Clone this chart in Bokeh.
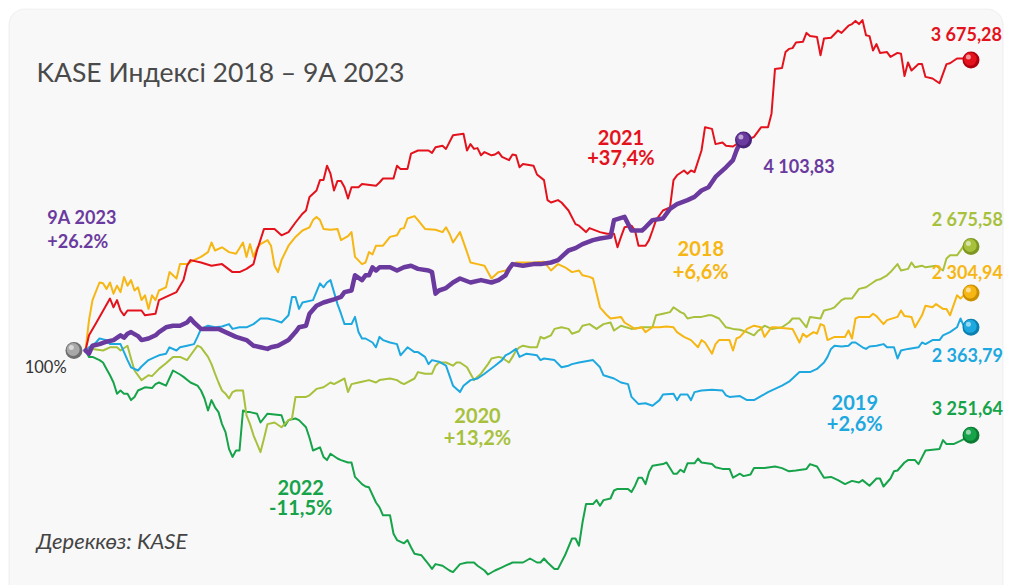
from bokeh.plotting import figure
from bokeh.models import Range1d, BoxAnnotation
from bokeh.embed import file_html
from bokeh.resources import INLINE
from bokeh.core.properties import value

# ---------------- data: (trading day, index level with start = 100) ----------------
s2021 = [(0,100.0),(1,101.9),(3,103.4),(7,106.5),(8,105.4),(9,106.3),(10,105.0),(11,104.4),(12,105.0),(16,105.0),(17,104.4),(20,104.6),(21,106.3),(23,106.7),(26,107.3),(28,108.8),(29,110.6),(30,111.3),(33,111.0),(36,110.6),(39,110.8),(42,109.8),(44,109.8),(46,110.2),(48,110.8),(49,112.5),(51,115.2),(54,115.2),(56,114.4),(58,114.8),(60,116.0),(62,117.1),(63,117.5),(64,119.2),(66,120.0),(67,121.3),(68,121.3),(69,123.1),(70,122.1),(71,120.0),(72,121.2),(73,121.2),(74,120.4),(75,119.0),(76,120.4),(78,120.4),(79,120.8),(83,120.6),(84,121.0),(85,121.5),(88,121.5),(89,123.1),(90,122.7),(92,122.7),(93,124.6),(95,125.0),(98,125.0),(99,124.7),(100,125.4),(102,125.6),(103,125.2),(105,126.9),(108,127.1),(109,125.0),(110,125.8),(111,125.2),(112,125.3),(113,124.4),(114,124.8),(116,124.4),(117,124.5),(118,124.8),(119,124.2),(121,123.8),(122,124.5),(123,124.4),(124,122.9),(125,123.3),(128,123.1),(129,122.0),(131,121.3),(132,118.8),(133,118.5),(135,118.8),(136,118.5),(138,117.5),(140,115.8),(141,115.6),(143,114.8),(144,115.3),(147,114.8),(149,114.6),(151,114.6),(152,112.9),(153,114.2),(154,115.4),(156,115.6),(157,115.0),(158,113.1),(160,113.1),(161,113.8),(162,115.0),(163,116.3),(165,117.5),(167,117.9),(168,121.3),(169,121.9),(171,122.5),(172,122.1),(173,122.5),(174,122.3),(176,125.0),(177,127.9),(179,127.7),(180,125.8),(182,126.0),(183,125.6),(185,125.5),(187,126.1),(189,126.3),(190,126.5),(191,126.7),(193,127.9),(195,127.9),(196,129.6),(197,135.2),(199,135.3),(200,137.3),(201,137.7),(202,137.8),(203,138.5),(205,138.6),(206,139.7),(207,139.3),(209,139.2),(210,136.9),(211,139.0),(213,139.1),(215,140.0),(216,139.7),(218,140.6),(219,140.8),(220,141.2),(221,140.8),(222,141.3),(223,139.4),(224,139.3),(225,137.5),(226,138.3),(227,137.2),(229,137.3),(230,136.7),(232,137.2),(233,137.1),(234,134.3),(235,136.0),(236,135.0),(238,135.8),(239,135.8),(240,134.2),(242,134.0),(244,133.4),(246,135.8),(247,135.9),(249,136.5),(251,136.5),(253,136.3)]

s2023 = [(0,100.0),(1,99.6),(2,100.6),(4,100.8),(6,101.1),(8,101.3),(10,101.9),(11,101.6),(12,102.1),(13,102.3),(15,101.8),(16,101.3),(18,101.5),(20,101.9),(21,102.3),(23,102.9),(25,103.1),(27,103.1),(29,103.5),(30,104.0),(31,103.5),(33,102.7),(35,102.7),(38,102.7),(40,102.3),(43,101.7),(46,101.3),(48,100.6),(50,100.4),(52,100.2),(53,100.4),(55,100.6),(58,101.3),(60,102.3),(61,102.9),(63,103.1),(64,104.6),(66,105.6),(68,106.0),(71,106.4),(73,106.7),(74,107.3),(76,107.5),(77,109.4),(79,108.8),(80,109.4),(81,109.4),(82,110.4),(83,110.0),(84,110.4),(87,110.4),(89,110.0),(91,110.4),(93,110.6),(95,110.2),(98,110.0),(99,109.8),(100,107.1),(101,107.5),(103,107.8),(105,108.5),(107,109.0),(110,108.5),(113,108.8),(116,108.5),(118,108.8),(120,109.4),(121,110.2),(122,110.8),(125,110.6),(128,110.8),(130,110.8),(133,111.0),(135,111.3),(138,112.5),(140,112.8),(142,113.3),(145,113.8),(147,114.0),(150,114.2),(151,116.3),(154,116.7),(156,115.0),(159,115.0),(160,115.4),(162,116.3),(165,116.5),(167,117.7),(169,118.3),(172,118.8),(174,119.2),(176,120.0),(178,120.4),(180,121.7),(181,122.1),(183,122.9),(185,123.8),(186,125.0),(187,126.0),(188,126.3)]

s2018 = [(0,100.0),(1,103.8),(2,106.3),(4,108.5),(5,108.4),(6,107.7),(7,108.5),(8,107.1),(9,108.1),(10,107.3),(11,109.2),(12,108.1),(13,108.8),(14,107.5),(15,107.9),(16,106.3),(17,106.9),(18,105.2),(19,106.9),(20,106.3),(21,107.5),(23,107.9),(24,109.8),(26,109.0),(27,110.8),(29,110.8),(31,111.3),(33,111.7),(35,112.3),(36,113.5),(37,112.5),(39,112.9),(41,112.3),(43,112.1),(45,113.5),(46,111.7),(47,113.3),(48,111.7),(49,112.8),(50,113.3),(52,113.8),(53,113.1),(54,110.6),(55,109.8),(56,111.3),(58,113.1),(60,114.2),(61,114.6),(62,115.0),(64,115.4),(65,116.3),(66,116.7),(67,116.3),(68,115.2),(70,115.1),(72,115.2),(73,113.8),(75,114.3),(76,114.8),(77,111.7),(79,110.8),(80,111.0),(81,112.3),(82,112.0),(83,113.1),(85,113.1),(87,114.2),(89,114.4),(90,115.2),(91,115.3),(92,116.5),(94,116.8),(95,116.3),(97,115.2),(100,115.1),(102,114.8),(103,115.4),(104,114.6),(105,113.5),(107,114.8),(109,112.3),(110,111.0),(112,110.8),(114,110.6),(116,109.0),(118,109.8),(120,110.0),(123,111.0),(124,111.0),(128,111.0),(131,111.1),(133,110.0),(135,110.8),(137,110.4),(139,109.8),(141,110.0),(142,109.4),(144,109.2),(145,109.0),(147,105.4),(149,104.4),(150,104.0),(153,104.2),(154,103.5),(157,102.7),(159,102.9),(160,102.3),(162,102.9),(164,102.9),(166,103.0),(168,102.9),(169,102.3),(171,101.7),(173,101.3),(175,100.4),(176,101.3),(177,101.0),(179,99.6),(180,100.8),(181,101.3),(184,101.3),(185,100.0),(186,101.5),(187,101.7),(189,102.7),(191,103.1),(193,102.9),(194,101.7),(196,102.9),(197,102.9),(199,102.8),(202,102.7),(204,101.0),(205,102.1),(206,101.7),(208,102.3),(209,102.1),(210,103.3),(211,103.1),(212,101.3),(214,101.7),(217,101.7),(218,102.5),(219,101.5),(220,104.0),(221,104.2),(224,104.2),(225,104.6),(226,104.3),(228,103.3),(229,103.8),(232,104.2),(233,105.0),(234,104.3),(236,104.2),(237,102.9),(239,104.4),(240,105.6),(242,105.4),(243,105.8),(245,105.2),(246,105.2),(247,104.4),(249,106.9),(250,106.5),(251,106.9),(253,107.2)]

s2019 = [(0,100.0),(1,100.4),(3,101.0),(4,101.5),(6,101.3),(7,100.8),(10,100.8),(11,99.8),(12,98.8),(13,97.9),(15,97.5),(16,98.0),(18,98.8),(20,99.2),(21,99.4),(23,99.6),(24,100.4),(26,100.0),(27,100.4),(29,100.6),(31,100.8),(32,101.7),(33,102.7),(35,103.1),(37,102.9),(39,103.0),(41,103.3),(42,102.7),(44,102.9),(46,102.9),(48,103.3),(50,104.0),(52,104.0),(54,103.8),(56,103.5),(58,104.4),(59,106.7),(60,106.7),(61,105.2),(62,106.0),(65,106.3),(67,108.4),(68,107.9),(69,108.5),(70,108.8),(71,107.3),(72,105.8),(73,104.6),(74,103.3),(76,103.3),(77,104.2),(78,102.3),(79,101.5),(80,101.5),(82,101.0),(83,100.4),(84,101.7),(85,101.3),(87,101.0),(89,100.8),(90,99.4),(92,100.4),(94,99.8),(95,99.8),(97,99.2),(98,98.3),(99,98.8),(101,98.6),(103,98.1),(105,95.6),(107,94.8),(108,95.6),(110,96.3),(112,96.5),(114,97.1),(117,98.1),(119,98.8),(120,99.4),(121,99.6),(123,100.2),(124,99.2),(126,99.6),(129,99.4),(130,98.8),(131,99.0),(134,98.8),(136,97.9),(138,98.1),(139,98.3),(141,98.5),(145,98.8),(147,97.9),(148,96.9),(151,96.5),(153,96.0),(155,95.8),(156,94.2),(158,93.3),(160,93.4),(162,93.1),(164,93.8),(165,94.5),(168,94.6),(169,93.8),(170,94.5),(172,94.5),(173,93.8),(174,94.8),(176,95.0),(179,95.1),(182,95.0),(183,94.4),(184,94.2),(187,94.3),(189,93.8),(191,93.8),(193,94.3),(195,94.8),(197,95.2),(199,95.6),(201,96.1),(203,96.9),(204,97.3),(207,97.3),(209,97.7),(211,98.5),(212,99.2),(213,100.2),(214,100.6),(216,100.5),(218,100.6),(219,101.0),(220,101.0),(222,100.4),(223,100.2),(224,100.5),(226,100.6),(228,100.8),(229,100.4),(231,100.4),(232,99.0),(233,100.0),(235,100.2),(238,100.4),(239,101.0),(240,100.8),(242,101.3),(244,101.3),(245,101.9),(247,102.3),(249,102.9),(250,104.0),(251,103.0),(253,102.9)]

s2020 = [(0,100.0),(2,100.2),(5,100.0),(7,100.4),(9,100.4),(10,100.0),(12,100.6),(13,99.0),(14,97.5),(16,96.3),(18,96.9),(19,96.8),(21,97.7),(23,98.4),(25,99.2),(27,99.2),(29,98.8),(31,100.0),(32,100.6),(33,100.4),(35,99.2),(36,98.3),(37,97.1),(38,96.0),(39,95.0),(40,94.6),(41,94.0),(42,94.8),(43,95.0),(45,95.0),(46,91.9),(47,90.8),(48,89.4),(50,87.3),(51,89.0),(52,90.8),(54,91.0),(56,90.4),(58,91.3),(59,91.5),(60,94.2),(61,94.2),(63,94.2),(64,94.4),(66,95.2),(68,95.4),(70,96.0),(71,95.8),(74,96.5),(75,94.8),(76,95.8),(78,96.0),(79,96.1),(81,96.3),(83,96.0),(84,96.3),(87,96.5),(89,96.3),(90,96.0),(91,95.8),(94,96.5),(95,97.3),(97,97.1),(99,97.1),(100,98.1),(101,98.5),(103,98.5),(105,98.1),(106,98.5),(107,98.5),(109,97.9),(110,97.1),(111,96.3),(113,97.1),(115,98.3),(116,99.0),(118,99.2),(119,99.1),(121,98.5),(122,99.2),(123,100.0),(124,100.4),(125,100.6),(127,100.4),(129,100.4),(130,101.7),(131,101.5),(133,101.9),(134,102.7),(136,102.9),(138,102.7),(139,102.1),(141,102.4),(142,103.1),(144,103.3),(146,102.7),(148,103.3),(150,103.5),(151,102.5),(153,103.1),(156,102.7),(159,102.9),(162,102.9),(163,104.4),(165,104.6),(167,104.8),(168,105.4),(170,104.8),(171,104.6),(172,104.0),(174,104.2),(176,104.2),(178,104.4),(179,104.4),(181,104.0),(183,102.9),(185,102.7),(187,102.6),(189,102.3),(191,101.9),(192,102.4),(193,102.7),(194,103.1),(196,102.7),(199,102.9),(201,103.5),(202,104.0),(204,104.0),(206,102.9),(207,104.2),(210,104.0),(211,105.0),(213,105.2),(214,105.4),(216,106.3),(217,106.5),(219,106.5),(220,107.1),(221,107.7),(223,107.9),(225,108.5),(226,108.8),(227,108.9),(229,109.4),(230,109.8),(232,110.8),(233,110.0),(235,110.2),(236,111.0),(237,110.4),(239,110.6),(240,110.4),(243,110.6),(245,110.0),(246,111.5),(247,111.9),(249,111.9),(251,113.1),(253,113.0)]

s2022 = [(0,100.0),(1,99.2),(2,99.2),(4,98.8),(5,98.5),(6,97.7),(7,96.9),(8,96.0),(9,94.6),(10,95.0),(11,94.6),(12,94.6),(13,93.8),(14,94.2),(15,95.0),(17,95.4),(19,95.3),(20,95.8),(21,96.0),(23,95.6),(25,97.5),(27,97.0),(28,96.7),(30,96.0),(32,95.6),(33,95.0),(34,94.0),(35,92.5),(36,93.8),(37,92.9),(38,92.3),(39,90.8),(40,89.8),(41,87.7),(42,86.7),(43,87.5),(44,87.5),(45,92.5),(46,92.3),(47,92.3),(49,92.1),(50,91.0),(52,92.1),(56,91.9),(57,90.6),(58,91.3),(60,91.5),(61,91.3),(63,90.4),(64,89.1),(65,87.5),(67,87.9),(68,86.7),(69,86.3),(70,87.1),(72,86.5),(73,86.3),(75,86.0),(76,86.0),(77,84.2),(79,83.3),(80,83.0),(81,82.9),(83,81.0),(84,80.4),(85,79.4),(87,79.4),(88,77.1),(89,76.3),(91,75.9),(92,76.3),(93,75.4),(94,74.6),(96,74.4),(98,73.3),(99,72.7),(100,73.3),(102,73.1),(104,72.5),(105,72.3),(107,73.3),(109,73.5),(111,73.5),(112,73.1),(114,72.5),(115,72.0),(117,72.5),(119,72.9),(120,73.1),(122,73.5),(125,73.5),(127,74.0),(129,73.5),(130,73.5),(131,74.0),(132,73.5),(134,72.7),(135,72.7),(137,74.4),(139,76.5),(140,76.5),(141,75.6),(142,78.5),(143,80.8),(145,80.8),(146,81.3),(147,80.6),(148,81.3),(150,81.5),(151,82.5),(152,82.7),(155,82.7),(156,82.3),(157,83.1),(158,84.1),(159,84.1),(160,83.3),(161,84.8),(162,85.6),(165,85.8),(166,86.0),(168,84.6),(169,84.6),(170,85.1),(171,84.8),(172,85.9),(174,85.9),(175,86.5),(176,86.0),(179,85.8),(180,85.4),(182,85.2),(184,85.2),(185,84.1),(187,84.6),(188,84.3),(190,84.5),(191,85.3),(194,85.3),(197,85.5),(199,85.3),(201,84.9),(203,85.0),(206,85.2),(207,85.8),(209,85.5),(211,84.1),(213,84.2),(215,83.8),(217,83.3),(219,83.7),(221,83.5),(222,83.8),(224,83.1),(226,84.0),(227,84.0),(228,83.0),(230,84.0),(231,84.9),(232,85.0),(234,86.0),(235,86.3),(237,86.3),(238,85.8),(240,87.5),(242,87.6),(244,87.7),(245,88.8),(246,88.3),(248,88.3),(250,88.7),(253,89.4)]

# end-of-period index values and yearly changes (labels)
end_values = {"2021": "3 675,28", "2023": "4 103,83", "2020": "2 675,58",
              "2018": "2 304,94", "2019": "2 363,79", "2022": "3 251,64"}
year_names = {"2023": "9А 2023", "2021": "2021", "2018": "2018", "2020": "2020", "2022": "2022", "2019": "2019"}
year_changes = {"2023": "+26.2%", "2021": "+37,4%", "2018": "+6,6%", "2020": "+13,2%", "2022": "-11,5%", "2019": "+2,6%"}

# ---------------- styling ----------------
colors = {"2021": "#e4121c", "2023": "#6b3a9e", "2018": "#f6b613", "2019": "#1ea8e0",
          "2020": "#a7c13c", "2022": "#16a34a"}
ball_dark = {"2021": "#b00010", "2023": "#4a2478", "2018": "#c98f00", "2019": "#0a7fb0",
             "2020": "#7d9620", "2022": "#0b7a33"}

PX_DAY = 3.5      # pixels per trading day
PX_PCT = 8.0      # pixels per index point
W, H = 1009, 585
x0 = -85 / PX_DAY
ytop = 100 + 350 / PX_PCT

p = figure(width=W, height=H, x_range=Range1d(x0, x0 + W / PX_DAY),
           y_range=Range1d(ytop - H / PX_PCT, ytop),
           x_axis_type=None, y_axis_type=None, output_backend="svg",
           toolbar_location=None, min_border=0)
p.background_fill_color = "white"
p.border_fill_color = "white"
p.outline_line_color = None

card = BoxAnnotation(left=x0 + 8.5 / PX_DAY, right=x0 + 1002.5 / PX_DAY,
                     top=ytop - 8.5 / PX_PCT, bottom=ytop - (H + 40) / PX_PCT,
                     fill_color="#f8f8f8", fill_alpha=1.0, line_color="#d8d8d8",
                     line_width=1.2, border_radius=16, level="underlay")
p.add_layout(card)

series = {"2022": s2022, "2020": s2020, "2019": s2019, "2018": s2018, "2021": s2021, "2023": s2023}
for key, pts in series.items():
    xs = [a for a, b in pts]
    ys = [b for a, b in pts]
    p.line(xs, ys, line_color=colors[key], line_width=(4.5 if key == "2023" else 2.0),
           line_join="round", line_cap="round")

FONT = value("Lato")

def ball(x, y, dark, light):
    p.scatter([x], [y], size=17, fill_color=dark, line_color=None)
    p.scatter([x - 0.8 / PX_DAY], [y + 1.0 / PX_PCT], size=13, fill_color=light, line_color=None)
    p.scatter([x - 2.6 / PX_DAY], [y + 3.0 / PX_PCT], size=5, fill_color="white", fill_alpha=0.55, line_color=None)

# start ball
ball(-3.3, 100.0, "#6e6e6e", "#a8a8a8")

# end balls + end value labels (offsets in screen px relative to the ball)
label_offsets = {"2021": (31, -26, "right"), "2023": (20, 26, "left"), "2020": (32, -28, "right"),
                 "2018": (32, -21, "right"), "2019": (32, 28, "right"), "2022": (32, -27, "right")}
for key, pts in series.items():
    ex, ey = pts[-1]
    ball(ex, ey, ball_dark[key], colors[key])
    dx, dy, al = label_offsets[key]
    p.text([ex], [ey], text=[end_values[key]], x_offset=dx, y_offset=dy,
           text_align=al, text_baseline="middle", text_font=FONT,
           text_font_size="18px", text_font_style="bold", text_color=colors[key])

# year labels: (day, level of first line, level of second line, align)
year_pos = {"2023": (-10.9, 116.7, 113.75, "left"), "2021": (153.0, 126.65, 124.15, "center"),
            "2018": (175.8, 112.7, 110.0, "center"), "2020": (112.0, 91.9, 89.2, "center"),
            "2022": (61.5, 82.9, 80.4, "center"), "2019": (219.8, 93.5, 91.0, "center")}
for key, (xx, y1, y2, al) in year_pos.items():
    fs = "18px" if key == "2023" else "20px"
    p.text([xx, xx], [y1, y2], text=[year_names[key], year_changes[key]], text_align=al,
           text_baseline="middle", text_font=FONT, text_font_size=fs,
           text_font_style="bold", text_color=colors[key])

# 100% start label
p.text([-5.4], [97.9], text=["100%"], text_align="right", text_baseline="middle",
       text_font=FONT, text_font_size="16.5px", text_color="#333333")

# title and source
p.text([-14.0], [134.8], text=["KASE Индексі 2018 – 9А 2023"], text_align="left",
       text_baseline="alphabetic", text_font=FONT, text_font_size="26.5px", text_color="#4a4a4a")
p.text([-14.0], [76.25], text=["Дереккөз: KASE"], text_align="left", text_baseline="middle",
       text_font=FONT, text_font_size="22px", text_font_style="italic", text_color="#444444")

open("out.html", "w").write(file_html(p, INLINE))
